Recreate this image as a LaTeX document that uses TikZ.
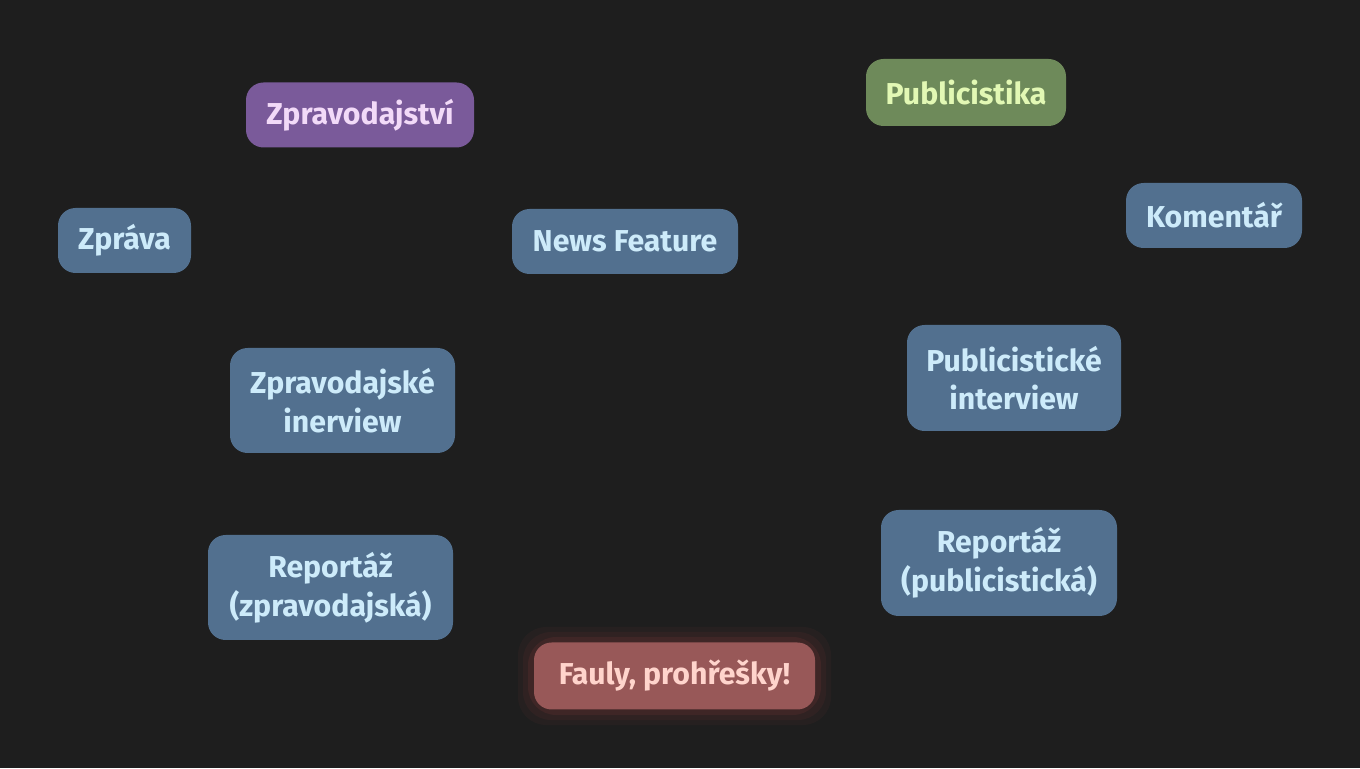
\documentclass[tikz,border=0pt]{standalone}
\usepackage{fontspec}
\setmainfont{Fira Sans}
\definecolor{pozadi}{HTML}{1E1E1E}
\definecolor{modra}{HTML}{52708F}
\definecolor{modratext}{HTML}{CDEBFA}
\definecolor{fialova}{HTML}{7A5A9A}
\definecolor{fialovatext}{HTML}{F2DAF8}
\definecolor{zelena}{HTML}{6E8A5A}
\definecolor{zelenatext}{HTML}{E2F8B4}
\definecolor{cervena}{HTML}{985858}
\definecolor{cervenatext}{HTML}{FFD4CC}
\begin{document}
\begin{tikzpicture}[
	karta/.style={rounded corners=5pt, fill=modra, text=modratext, font=\bfseries\fontsize{8.6}{11}\selectfont, align=center, inner sep=0pt, minimum height=0.65cm},
	hlavni/.style={karta, fill=fialova, text=fialovatext},
	zeleny/.style={karta, fill=zelena, text=zelenatext},
	chyba/.style={karta, fill=cervena, text=cervenatext}
]

	\fill[pozadi] (0,0) rectangle (13.6,7.68);
	\useasboundingbox (0,0) rectangle (13.6,7.68);

	% zpravodajstvi
	\node[hlavni, minimum width=2.28cm] (zpravodajstvi) at (3.60,6.53) {Zpravodajství};
	\node[karta, minimum width=1.33cm] (zprava) at (1.245,5.275) {Zpráva};
	\node[karta, minimum width=2.26cm] (feature) at (6.25,5.265) {News Feature};
	\node[karta, minimum width=2.25cm, minimum height=1.05cm] (zinterview) at (3.425,3.675) {Zpravodajské\\inerview};
	\node[karta, minimum width=2.45cm, minimum height=1.05cm] (zreportaz) at (3.305,1.805) {Reportáž\\(zpravodajská)};

	% publicistika
	\node[zeleny, minimum width=2.0cm, minimum height=0.67cm] (publicistika) at (9.66,6.755) {Publicistika};
	\node[karta, minimum width=1.76cm] (komentar) at (12.14,5.525) {Komentář};
	\node[karta, minimum width=2.14cm, minimum height=1.06cm] (pinterview) at (10.14,3.90) {Publicistické\\interview};
	\node[karta, minimum width=2.36cm, minimum height=1.06cm] (preportaz) at (9.99,2.05) {Reportáž\\(publicistická)};

	% fauly
	\foreach \r/\o in {0.16/0.06, 0.11/0.08, 0.06/0.12}
		\fill[cervena!80!red, opacity=\o, rounded corners=8pt] (5.34-\r,0.59-\r) rectangle (8.15+\r,1.25+\r);
	\node[chyba, minimum width=2.81cm, minimum height=0.67cm] (fauly) at (6.745,0.92) {Fauly, prohřešky!};

\end{tikzpicture}
\end{document}
